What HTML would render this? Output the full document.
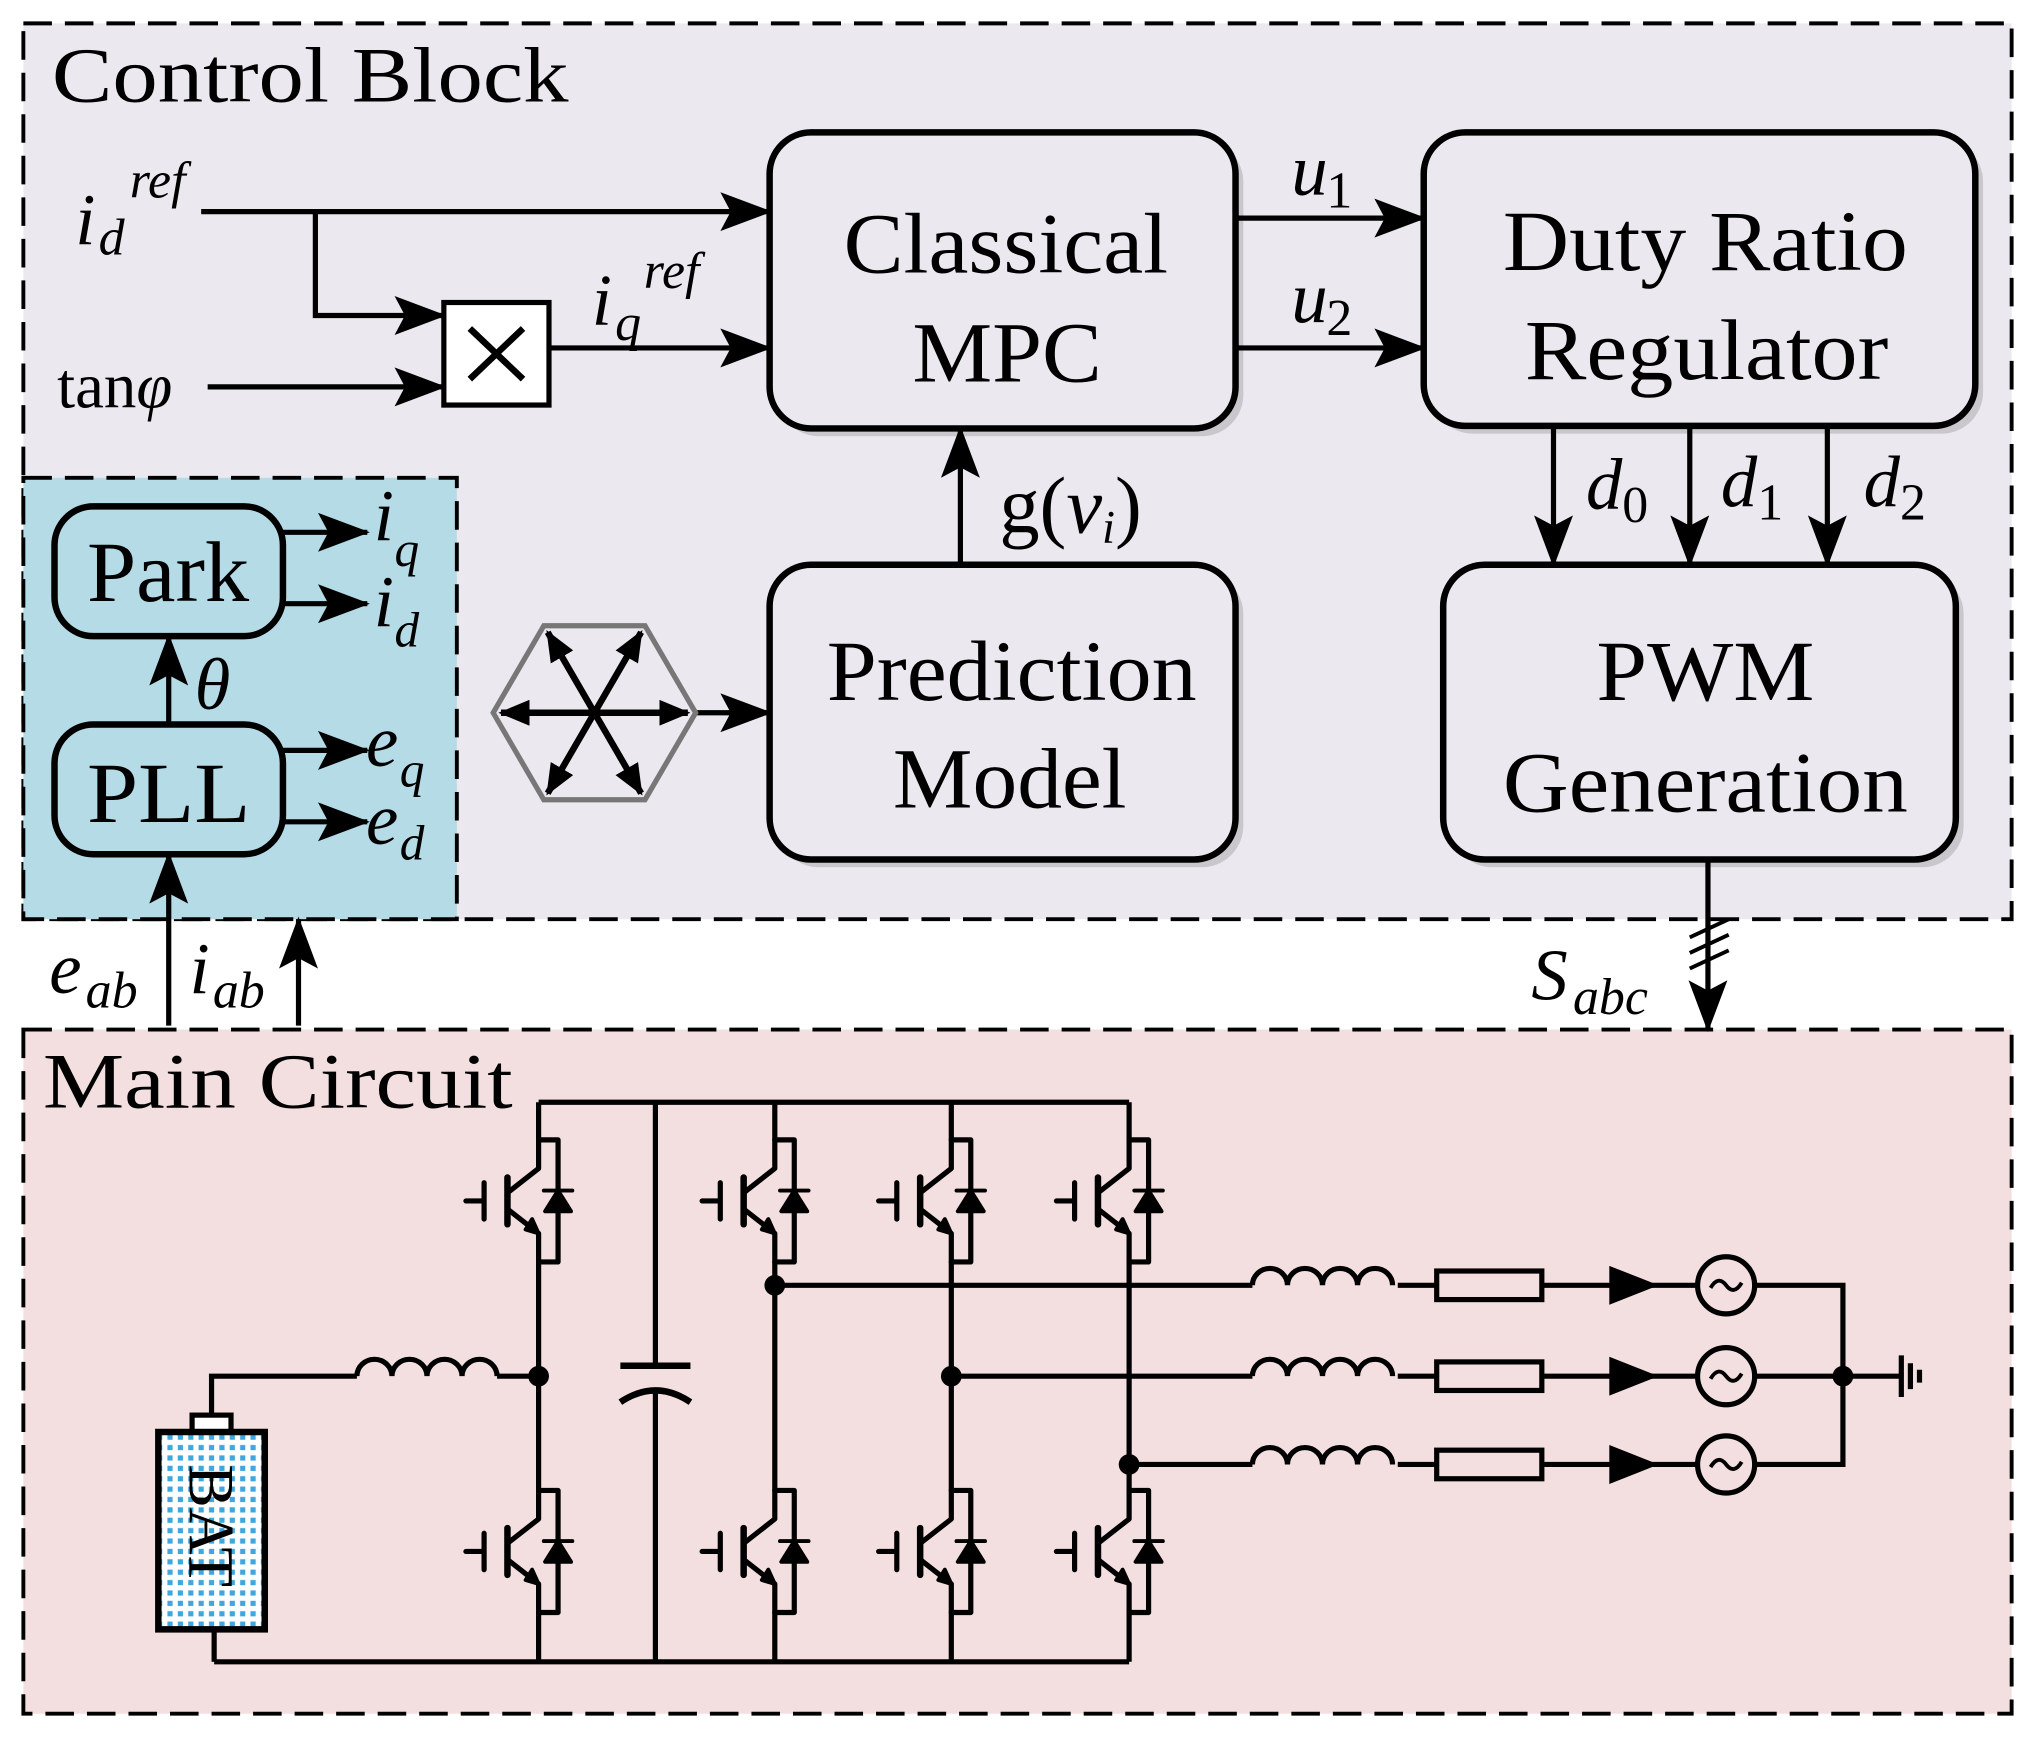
<!DOCTYPE html>
<html><head><meta charset="utf-8"><style>html,body{margin:0;padding:0;background:#fff}svg{display:block}</style></head>
<body>
<svg width="2035" height="1741" viewBox="0 0 1568 1341" preserveAspectRatio="none" xmlns="http://www.w3.org/2000/svg" font-family="Liberation Serif, serif">
<defs>
<marker id="a" viewBox="0 0 40 30" refX="38" refY="15" markerWidth="40" markerHeight="30" orient="auto-start-reverse" markerUnits="userSpaceOnUse"><path d="M0,0 L40,15 L0,30 L8,15 z" fill="#000"/></marker>
<marker id="ah" viewBox="0 0 24 20" refX="22" refY="10" markerWidth="24" markerHeight="20" orient="auto-start-reverse" markerUnits="userSpaceOnUse"><path d="M0,0 L24,10 L0,20 z" fill="#000"/></marker>
<g id="igbt" fill="none" stroke="#000" stroke-width="4" stroke-linejoin="round" stroke-linecap="round">
<path d="M0,-47 H15 V47 H0"/>
<path d="M0,-47 V-25 L-23,-7"/>
<path d="M-24,-18 V18" stroke-width="5"/>
<path d="M-23,7 L0,25 V47"/>
<path d="M-42,-14 V14 M-56,0 H-42"/>
<path d="M15,-8 L5,8 H25 Z M4,-8 H26" fill="#000" stroke-width="3"/>
<path d="M-10,22 L0,25 L-5,14 Z" fill="#000" stroke-width="3"/>
</g>
<g id="ind" fill="none" stroke="#000" stroke-width="4"><path d="M0,0 a13.5,13 0 0 1 27,0 a13.5,13 0 0 1 27,0 a13.5,13 0 0 1 27,0 a13.5,13 0 0 1 27,0"/></g>
<pattern id="dots" width="8" height="8" patternUnits="userSpaceOnUse"><rect width="8" height="8" fill="#fff"/><rect x="1" y="1" width="4" height="4" fill="#3fa7de"/></pattern>
</defs>
<rect x="18" y="18" width="1532" height="690" fill="#ece8f0" stroke="#000" stroke-width="3" stroke-dasharray="22 10"/>
<rect x="18" y="368" width="334" height="340" fill="#b5dbe6" stroke="#000" stroke-width="3" stroke-dasharray="22 10"/>
<rect x="18" y="793" width="1532" height="527" fill="#f3dfdf" stroke="#000" stroke-width="3" stroke-dasharray="22 10"/>
<text x="40" y="78" font-size="60" textLength="398" lengthAdjust="spacingAndGlyphs">Control Block</text>
<text x="33" y="853" font-size="60" textLength="362" lengthAdjust="spacingAndGlyphs">Main Circuit</text>
<g fill="#c9c6cc">
<rect x="599" y="108" width="359" height="228" rx="32"/>
<rect x="1103" y="108" width="425" height="226" rx="32"/>
<rect x="599" y="441" width="359" height="227" rx="32"/>
<rect x="1118" y="441" width="395" height="227" rx="32"/>
</g>
<g fill="#ece8f0" stroke="#000" stroke-width="5">
<rect x="593" y="102" width="359" height="228" rx="32"/>
<rect x="1097" y="102" width="425" height="226" rx="32"/>
<rect x="593" y="435" width="359" height="227" rx="32"/>
<rect x="1112" y="435" width="395" height="227" rx="32"/>
</g>
<g fill="#b5dbe6" stroke="#000" stroke-width="5">
<rect x="42" y="390" width="176" height="100" rx="30"/>
<rect x="42" y="558" width="176" height="100" rx="30"/>
</g>
<rect x="342" y="233" width="81" height="79" fill="#fff" stroke="#000" stroke-width="4"/>
<path d="M362,253 L403,292 M403,253 L362,292" stroke="#000" stroke-width="5"/>
<g font-size="66" lengthAdjust="spacingAndGlyphs">
<text x="650" y="210" textLength="250" lengthAdjust="spacingAndGlyphs">Classical</text>
<text x="703" y="294" textLength="146" lengthAdjust="spacingAndGlyphs">MPC</text>
<text x="1158" y="208" textLength="312" lengthAdjust="spacingAndGlyphs">Duty Ratio</text>
<text x="1175" y="292" textLength="280" lengthAdjust="spacingAndGlyphs">Regulator</text>
<text x="637" y="539" textLength="285" lengthAdjust="spacingAndGlyphs">Prediction</text>
<text x="688" y="622" textLength="180" lengthAdjust="spacingAndGlyphs">Model</text>
<text x="1230" y="539" textLength="168" lengthAdjust="spacingAndGlyphs">PWM</text>
<text x="1158" y="625" textLength="312" lengthAdjust="spacingAndGlyphs">Generation</text>
<text x="67" y="463" textLength="125" lengthAdjust="spacingAndGlyphs">Park</text>
<text x="67" y="633" textLength="126" lengthAdjust="spacingAndGlyphs">PLL</text>
</g>
<g stroke="#000" stroke-width="4" fill="none">
<path d="M155,163 H593" marker-end="url(#a)"/>
<path d="M243,163 V243 H342" marker-end="url(#a)"/>
<path d="M160,298 H342" marker-end="url(#a)"/>
<path d="M423,268 H593" marker-end="url(#a)"/>
<path d="M952,168 H1097" marker-end="url(#a)"/>
<path d="M952,268 H1097" marker-end="url(#a)"/>
<path d="M740,435 V330" marker-end="url(#a)"/>
<path d="M535,549 H593" marker-end="url(#a)"/>
<path d="M1197,328 V435" marker-end="url(#a)"/>
<path d="M1302,328 V435" marker-end="url(#a)"/>
<path d="M1408,328 V435" marker-end="url(#a)"/>
<path d="M218,410 H283" marker-end="url(#a)"/>
<path d="M218,465 H283" marker-end="url(#a)"/>
<path d="M218,578 H283" marker-end="url(#a)"/>
<path d="M218,633 H283" marker-end="url(#a)"/>
<path d="M130,558 V490" marker-end="url(#a)"/>
<path d="M130,790 V658" marker-end="url(#a)"/>
<path d="M230,790 V708" marker-end="url(#a)"/>
<path d="M1316,662 V793" marker-end="url(#a)"/>
<path d="M1302,722 L1332,708 M1302,734 L1332,720 M1302,746 L1332,732" stroke-width="3"/>
</g>
<polygon points="536,549 497,616 419,616 380,549 419,482 497,482" fill="none" stroke="#777" stroke-width="4"/>
<g stroke="#000" stroke-width="5">
<line x1="386" y1="549" x2="530" y2="549" marker-start="url(#ah)" marker-end="url(#ah)"/>
<line x1="422" y1="487" x2="494" y2="611" marker-start="url(#ah)" marker-end="url(#ah)"/>
<line x1="494" y1="487" x2="422" y2="611" marker-start="url(#ah)" marker-end="url(#ah)"/>
</g>
<g font-style="italic" font-size="56">
<text x="58" y="188">i</text><text x="76" y="196" font-size="40">d</text><text x="100" y="152" font-size="40">ref</text>
<text x="44" y="314" font-style="normal" font-size="50">tan<tspan font-style="italic">φ</tspan></text>
<text x="456" y="250">i</text><text x="474" y="262" font-size="40">q</text><text x="496" y="222" font-size="40">ref</text>
<text x="995" y="150">u</text><text x="1022" y="160" font-size="40" font-style="normal">1</text>
<text x="995" y="248">u</text><text x="1022" y="258" font-size="40" font-style="normal">2</text>
<text x="770" y="410" font-size="62"><tspan font-style="normal">g(</tspan>v<tspan font-size="36" dy="8">i</tspan><tspan font-style="normal" dy="-8">)</tspan></text>
<text x="1222" y="392">d</text><text x="1250" y="402" font-size="40" font-style="normal">0</text>
<text x="1326" y="390">d</text><text x="1354" y="400" font-size="40" font-style="normal">1</text>
<text x="1436" y="390">d</text><text x="1464" y="400" font-size="40" font-style="normal">2</text>
<text x="288" y="416">i</text><text x="304" y="436" font-size="38">q</text>
<text x="288" y="482">i</text><text x="304" y="498" font-size="38">d</text>
<text x="150" y="546">θ</text>
<text x="282" y="590">e</text><text x="308" y="606" font-size="38">q</text>
<text x="282" y="650">e</text><text x="308" y="662" font-size="38">d</text>
<text x="38" y="765">e</text><text x="66" y="776" font-size="40">ab</text>
<text x="146" y="765">i</text><text x="164" y="776" font-size="40">ab</text>
<text x="1180" y="770">S</text><text x="1212" y="781" font-size="40">abc</text>
</g>
<g stroke="#000" stroke-width="4" fill="none">
<path d="M415,849 H870 M165,1280 H870"/>
<path d="M415,849 V878 M415,972 V1148 M415,1242 V1280"/>
<path d="M597,849 V878 M597,972 V1148 M597,1242 V1280"/>
<path d="M733,849 V878 M733,972 V1148 M733,1242 V1280"/>
<path d="M870,849 V878 M870,972 V1148 M870,1242 V1280"/>
<path d="M505,849 V1052 M505,1072 V1280"/>
<path d="M478,1052 H532" stroke-width="5"/>
<path d="M478,1080 Q505,1062 532,1080" stroke-width="5"/>
<path d="M163,1090 V1060 H275 M383,1060 H415"/>
<path d="M165,1255 V1280"/>
<path d="M597,990 H965 M1077,990 H1107 M1188,990 H1308 M1352,990 H1420 V1128 H1352"/>
<path d="M733,1060 H965 M1077,1060 H1107 M1188,1060 H1308 M1352,1060 H1465"/>
<path d="M870,1128 H965 M1077,1128 H1107 M1188,1128 H1308"/>
<path d="M1465,1044 V1076 M1472,1050 V1070 M1479,1055 V1065"/>
<rect x="1107" y="979" width="81" height="22"/>
<rect x="1107" y="1049" width="81" height="22"/>
<rect x="1107" y="1117" width="81" height="22"/>
<circle cx="1330" cy="990" r="22"/><circle cx="1330" cy="1060" r="22"/><circle cx="1330" cy="1128" r="22"/>
<path d="M1318,992 q6,-10 12,-2 t12,-2 M1318,1062 q6,-10 12,-2 t12,-2 M1318,1130 q6,-10 12,-2 t12,-2" stroke-width="3"/>
</g>
<g fill="#000">
<path d="M1240,975 L1278,990 L1240,1005 Z M1240,1045 L1278,1060 L1240,1075 Z M1240,1113 L1278,1128 L1240,1143 Z"/>
<circle cx="415" cy="1060" r="8"/><circle cx="597" cy="990" r="8"/><circle cx="733" cy="1060" r="8"/><circle cx="870" cy="1128" r="8"/><circle cx="1420" cy="1060" r="8"/>
</g>
<use href="#ind" x="275" y="1060"/>
<use href="#ind" x="965" y="990"/><use href="#ind" x="965" y="1060"/><use href="#ind" x="965" y="1128"/>
<use href="#igbt" x="415" y="925"/><use href="#igbt" x="597" y="925"/><use href="#igbt" x="733" y="925"/><use href="#igbt" x="870" y="925"/>
<use href="#igbt" x="415" y="1195"/><use href="#igbt" x="597" y="1195"/><use href="#igbt" x="733" y="1195"/><use href="#igbt" x="870" y="1195"/>
<rect x="148" y="1090" width="30" height="13" fill="#fff" stroke="#000" stroke-width="4"/>
<rect x="122" y="1103" width="82" height="152" fill="url(#dots)" stroke="#000" stroke-width="5"/>
<text x="0" y="0" font-size="50" transform="translate(146,1128) rotate(90)">BAT</text>
</svg>
</body></html>
